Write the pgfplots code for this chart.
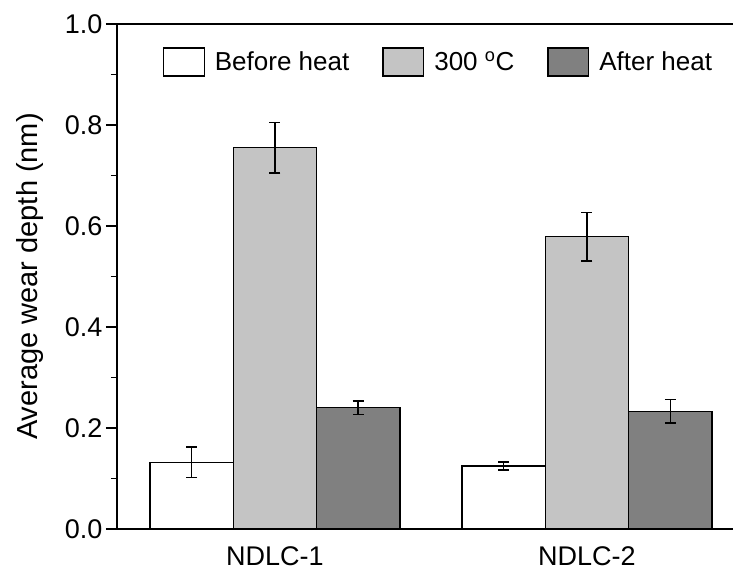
\documentclass[border=0pt]{standalone}
\usepackage{pgfplots}
\pgfplotsset{compat=1.18}
\usepackage{fontspec}
\setmainfont{Liberation Sans}
\definecolor{lgrey}{RGB}{196,196,196}
\definecolor{dgrey}{RGB}{128,128,128}
\begin{document}
\begin{tikzpicture}
\begin{axis}[
  scale only axis, width=616bp, height=505bp,
  xmin=-0.506, xmax=1.468, ymin=0, ymax=1,
  axis x line*=bottom, axis y line*=left,
  axis line style={line width=1.6pt},
  ybar, bar width=0.267,
  xtick={0,1}, xticklabels={NDLC-1,NDLC-2},
  x tick style={draw=none},
  ytick={0,0.2,...,1.0},
  minor y tick num=1,
  tick align=outside,
  major tick length=11bp, minor tick length=6bp,
  y tick style={line width=1.2pt, black},
  tick label style={font=\fontsize{27bp}{31bp}\selectfont},
  yticklabel style={/pgf/number format/.cd, fixed, fixed zerofill, precision=1, assume math mode=true},
  ylabel={Average wear depth (nm)},
  ylabel style={font=\fontsize{29bp}{33bp}\selectfont, at={(axis description cs:-0.142,0.5)}, anchor=center},
  xticklabel style={yshift=-3bp},
  legend columns=3,
  legend style={draw=none, fill=none, inner sep=0pt, font=\fontsize{26bp}{30bp}\selectfont,
    at={(axis description cs:0.0742,0.9539)}, anchor=north west,
    /tikz/every odd column/.append style={column sep=8bp},
    /tikz/every even column/.append style={column sep=31bp}},
  legend image code/.code={\draw[#1,line width=1.4pt] (0bp,-14bp) rectangle (40.6bp,14bp);},
  error bars/y dir=both, error bars/y explicit,
  error bars/error mark options={rotate=90, mark size=5.5bp, line width=1.5pt, black},
  error bars/error bar style={line width=1.5pt, black},
]
\addplot[draw=black, fill=white, line width=1.4pt, bar shift=-0.267]
  table[x=x, y=y, y error=e] {
  x y e
  0 0.132 0.030
  1 0.125 0.008
};
\addlegendentry{Before heat}
\addplot[draw=black, fill=lgrey, line width=1.4pt, bar shift=0]
  table[x=x, y=y, y error=e] {
  x y e
  0 0.755 0.050
  1 0.579 0.048
};
\addlegendentry{300 \textsuperscript{o}C}
\addplot[draw=black, fill=dgrey, line width=1.4pt, bar shift=0.267]
  table[x=x, y=y, y error=e] {
  x y e
  0 0.240 0.013
  1 0.233 0.023
};
\addlegendentry{After heat}
\draw[line width=1.6pt] (rel axis cs:0,1) -- (rel axis cs:1,1);
\end{axis}
\pgfresetboundingbox
\path ([shift={(-117bp,-41bp)}]current axis.south west) rectangle ([shift={(0bp,24bp)}]current axis.north east);
\end{tikzpicture}
\end{document}
